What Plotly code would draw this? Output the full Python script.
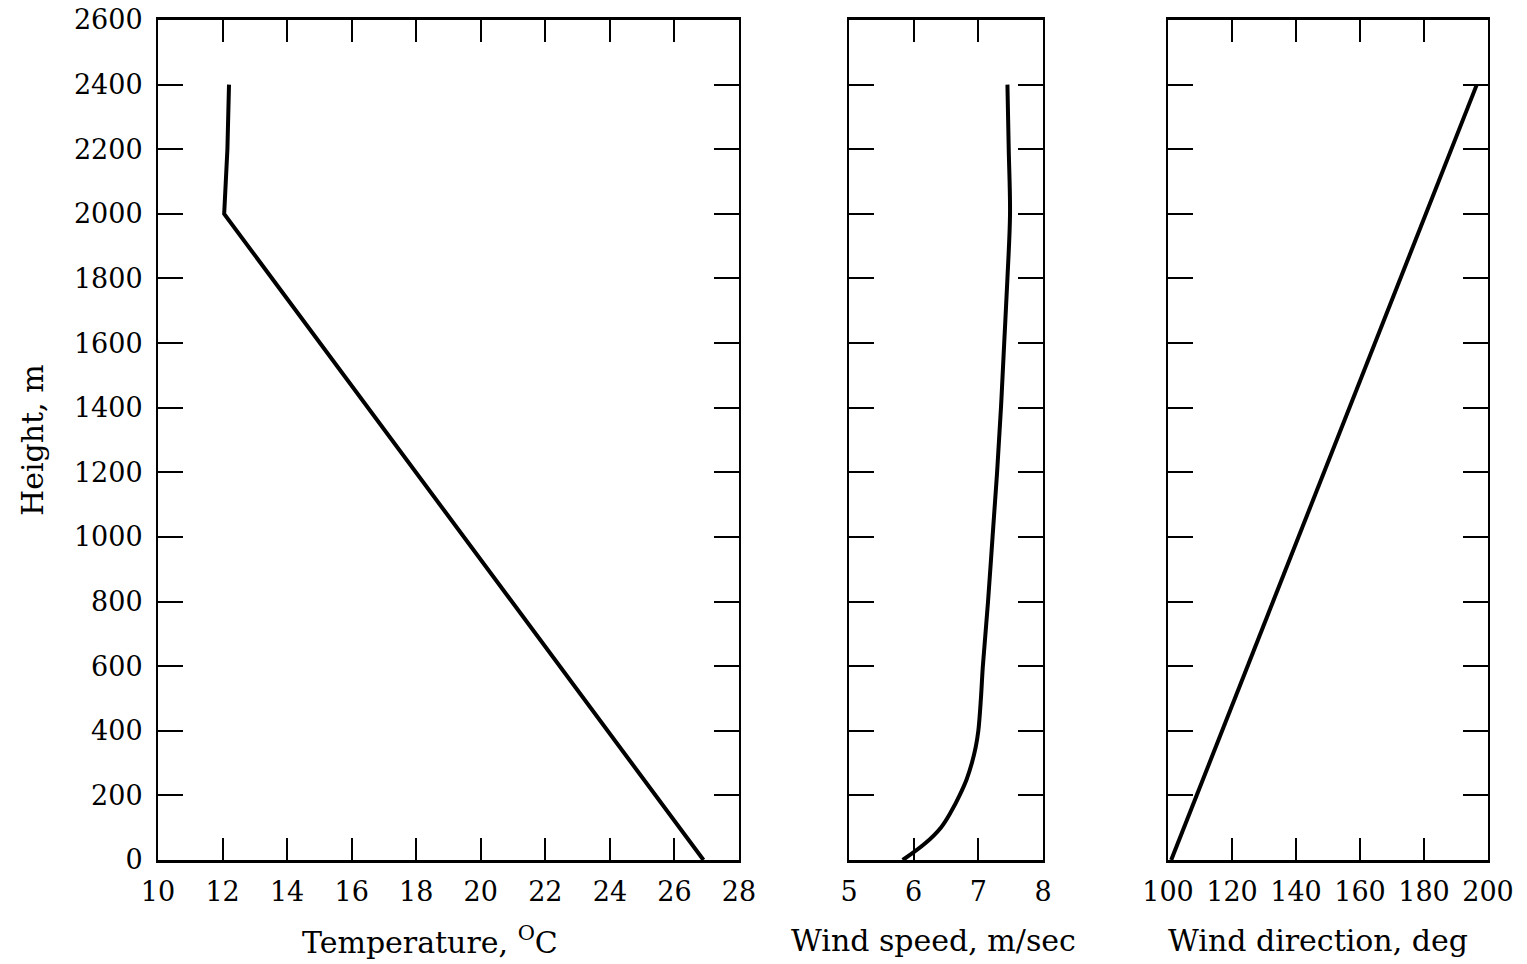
import plotly.graph_objects as go

# ---- data ----
height_temp = [0, 2000, 2200, 2400]
temperature = [26.9, 12.05, 12.15, 12.2]

height_ws = [0, 50, 100, 150, 200, 250, 300, 350, 400, 500, 600, 800, 1000, 1200, 1400, 1600, 1800, 2000, 2200, 2400]
wind_speed = [5.83, 6.17, 6.42, 6.58, 6.71, 6.82, 6.9, 6.96, 7.0, 7.04, 7.07, 7.15, 7.22, 7.29, 7.35, 7.4, 7.45, 7.49, 7.47, 7.45]

height_wd = [0, 2400]
wind_dir = [101, 196.5]

height_ticks = list(range(0, 2601, 200))
temp_ticks = [10, 12, 14, 16, 18, 20, 22, 24, 26, 28]
ws_ticks = [5, 6, 7, 8]
wd_ticks = [100, 120, 140, 160, 180, 200]

W, H = 1527, 964
FONT = "DejaVu Serif"

fig = go.Figure()
line = dict(color="black", width=4)
fig.add_trace(go.Scatter(x=temperature, y=height_temp, mode="lines", line=line, xaxis="x", yaxis="y"))
fig.add_trace(go.Scatter(x=wind_speed, y=height_ws, mode="lines",
                         line=dict(color="black", width=4, shape="spline", smoothing=1.0),
                         xaxis="x2", yaxis="y2"))
fig.add_trace(go.Scatter(x=wind_dir, y=height_wd, mode="lines", line=line, xaxis="x3", yaxis="y3"))

ydom = [(H - 860) / H, (H - 20) / H]
doms = [(158 / W, 739 / W), (849 / W, 1043 / W), (1168 / W, 1488 / W)]
xranges = [[10, 28], [5, 8], [100, 200]]
xticks = [temp_ticks, ws_ticks, wd_ticks]

tickfont = dict(family=FONT, size=27, color="black")
layout = dict(
    width=W, height=H,
    margin=dict(l=0, r=0, t=0, b=0),
    paper_bgcolor="white", plot_bgcolor="white",
    showlegend=False,
)
for i in range(3):
    sx = "" if i == 0 else str(i + 1)
    layout["xaxis" + sx] = dict(
        domain=list(doms[i]), range=xranges[i], anchor="y" + sx,
        tickvals=xticks[i], ticks="inside", ticklen=22, tickwidth=2, tickcolor="black",
        showline=True, linewidth=3, linecolor="black", mirror="ticks",
        showgrid=False, zeroline=False, tickfont=tickfont, ticklabelstandoff=6,
        automargin=False,
    )
    layout["yaxis" + sx] = dict(
        domain=ydom, range=[0, 2600], anchor="x" + sx,
        tickvals=height_ticks, ticks="inside", ticklen=25, tickwidth=2, tickcolor="black",
        showline=True, linewidth=2, linecolor="black", mirror="ticks",
        showgrid=False, zeroline=False, tickfont=tickfont,
        showticklabels=(i == 0), ticklabelstandoff=8, automargin=False,
    )
fig.update_layout(**layout)

titlefont = dict(family=FONT, size=30, color="black")
ann = [
    dict(text="Temperature, <sup>O</sup>C", x=430 / W, y=(H - 940) / H),
    dict(text="Wind speed, m/sec", x=933 / W, y=(H - 940) / H),
    dict(text="Wind direction, deg", x=1318 / W, y=(H - 940) / H),
]
for a in ann:
    fig.add_annotation(text=a["text"], x=a["x"], y=a["y"], xref="paper", yref="paper",
                       showarrow=False, font=titlefont, xanchor="center", yanchor="middle")
fig.add_annotation(text="Height, m", x=32 / W, y=(H - 440) / H, xref="paper", yref="paper",
                   showarrow=False, font=titlefont, textangle=-90, xanchor="center", yanchor="middle")

fig.write_html("out.html")
